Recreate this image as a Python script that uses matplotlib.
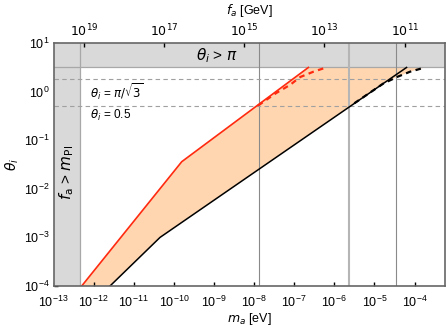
import numpy as np
import matplotlib
matplotlib.use("Agg")
import matplotlib.pyplot as plt

plt.rcParams['font.family'] = ['Liberation Sans', 'DejaVu Sans']
plt.rcParams['mathtext.fontset'] = 'dejavusans'

# ---- data (log10 values) ----
K = 5.7e6  # m_a * f_a  [eV * GeV]
theta_max = np.pi
m_planck_edge = 4.67e-13  # m_a where f_a = M_Pl

red_solid_logm = [-12.297, -9.803, -6.646]
red_solid_logt = [-4.0, -1.442, np.log10(np.pi)]

red_dash_logm = [-7.9, -7.45, -7.1, -6.85, -6.52, -6.2]
red_dash_logt = [-0.287, -0.03, 0.14, 0.30, 0.41, np.log10(np.pi)]

black_solid_logm = [-11.591, -10.344, -4.198]
black_solid_logt = [-4.0, -3.0, np.log10(np.pi)]

black_dash_logm = [-5.5, -4.78, -4.44, -4.11, -3.74]
black_dash_logt = [-0.24, 0.165, 0.30, 0.41, np.log10(np.pi)]

vlines_m = [1.36e-8, 2.3e-6, 3.5e-5]
hlines_theta = [np.pi / np.sqrt(3), 0.5]

top_ticks_fa = [1e19, 1e17, 1e15, 1e13, 1e11]
top_tick_labels = ['$10^{19}$', '$10^{17}$', '$10^{15}$', '$10^{13}$', '$10^{11}$']

xlim = (1e-13, 10**-3.24)
ylim = (1e-4, 1e1)

# ---- figure ----
fig = plt.figure(figsize=(4.47, 3.31), dpi=100)
ax = fig.add_axes([0.1197, 0.136, 0.9955 - 0.1197, 0.870 - 0.136])
ax.set_xscale('log')
ax.set_yscale('log')
ax.set_xlim(*xlim)
ax.set_ylim(*ylim)

p = lambda a: 10 ** np.asarray(a, dtype=float)

rsm, rst = p(red_solid_logm), p(red_solid_logt)
rdm, rdt = p(red_dash_logm), p(red_dash_logt)
bsm, bst = p(black_solid_logm), p(black_solid_logt)
bdm, bdt = p(black_dash_logm), p(black_dash_logt)

# filled region: red solid (left) ... black dashed/solid (right)
bs_lower_m = bsm[:2]
bs_lower_t = bst[:2]
t_start = bdt[0]
m_on_black = 10 ** np.interp(np.log10(t_start), np.log10(bst), np.log10(bsm))
poly_m = list(rsm) + list(bdm[::-1]) + [m_on_black] + list(bs_lower_m[::-1])
poly_t = list(rst) + list(bdt[::-1]) + [t_start] + list(bs_lower_t[::-1])
ax.fill(poly_m, poly_t, color=(1.0, 0.84, 0.69), lw=0, zorder=1)

# gray excluded bands
band_c = '#d9d9d9'
ax.fill_between([xlim[0], xlim[1]], theta_max, ylim[1], color=band_c, lw=0, zorder=2)
ax.fill_between([xlim[0], m_planck_edge], ylim[0], theta_max, color=band_c, lw=0, zorder=2)
ax.axhline(theta_max, color='#a8a8a8', lw=0.9, zorder=2.5)
ax.plot([m_planck_edge, m_planck_edge], [ylim[0], ylim[1]], color='#a8a8a8', lw=0.9, zorder=2.5)

# vertical reference lines
ax.axvline(vlines_m[0], color='#8a8a8a', lw=0.8, zorder=3)
ax.axvline(vlines_m[1], color='#b5b5b5', lw=1.5, zorder=3)
ax.axvline(vlines_m[2], color='#8a8a8a', lw=0.8, zorder=3)

# horizontal dashed lines
for h in hlines_theta:
    ax.axhline(h, color='#a0a0a0', lw=0.8, ls=(0, (4, 3)), zorder=3)

# curves
ax.plot(rsm, rst, color='#ff2a10', lw=1.2, zorder=4)
ax.plot(rdm, rdt, color='#ff2a10', lw=1.6, ls=(0, (2.5, 2)), zorder=4)
ax.plot(bsm, bst, color='black', lw=1.1, zorder=4)
ax.plot(bdm, bdt, color='black', lw=1.6, ls=(0, (2.5, 2)), zorder=4)

# texts
ax.text(1.2e-9, 5.6, r'$\theta_i$ > $\pi$', fontsize=11, ha='center', va='center', zorder=5)
ax.text(8.2e-13, 1.0, r'$\theta_i$ = $\pi/\sqrt{3}$', fontsize=8.5, ha='left', va='center', zorder=5)
ax.text(8.2e-13, 0.33, r'$\theta_i$ = 0.5', fontsize=8.5, ha='left', va='center', zorder=5)
ax.text(2.15e-13, 0.022, r'$f_{\rm a}$ > $m_{\rm Pl}$', fontsize=11, rotation=90,
        ha='center', va='center', zorder=5)

ax.set_xlabel(r'$m_a$ [eV]', fontsize=9, labelpad=1)
ax.set_ylabel(r'$\theta_i$', fontsize=10, labelpad=2)

ax.tick_params(which='major', direction='in', length=3, width=1, color='black',
               labelsize=9, top=False, right=False)
ax.tick_params(axis='x', pad=6)
ax.tick_params(axis='y', pad=3)
ax.tick_params(which='minor', length=0)
ax.set_xticks([10.0 ** k for k in range(-13, -3)])
ax.set_yticks([10.0 ** k for k in range(-4, 2)])
for s in ax.spines.values():
    s.set_color('#666666')
    s.set_linewidth(1.2)
    s.set_zorder(6)

# top axis (f_a)
ax2 = ax.twiny()
ax2.set_xscale('log')
ax2.set_xlim(*xlim)
ax2.set_xticks([K / f for f in top_ticks_fa])
ax2.set_xticklabels(top_tick_labels)
ax2.tick_params(which='major', direction='in', length=3, width=1, color='black', labelsize=9, pad=3)
ax2.tick_params(which='minor', length=0)
ax2.set_xlabel(r'$f_a$ [GeV]', fontsize=9, labelpad=6)
for s in ax2.spines.values():
    s.set_visible(False)

fig.savefig('out.png', dpi=100)
